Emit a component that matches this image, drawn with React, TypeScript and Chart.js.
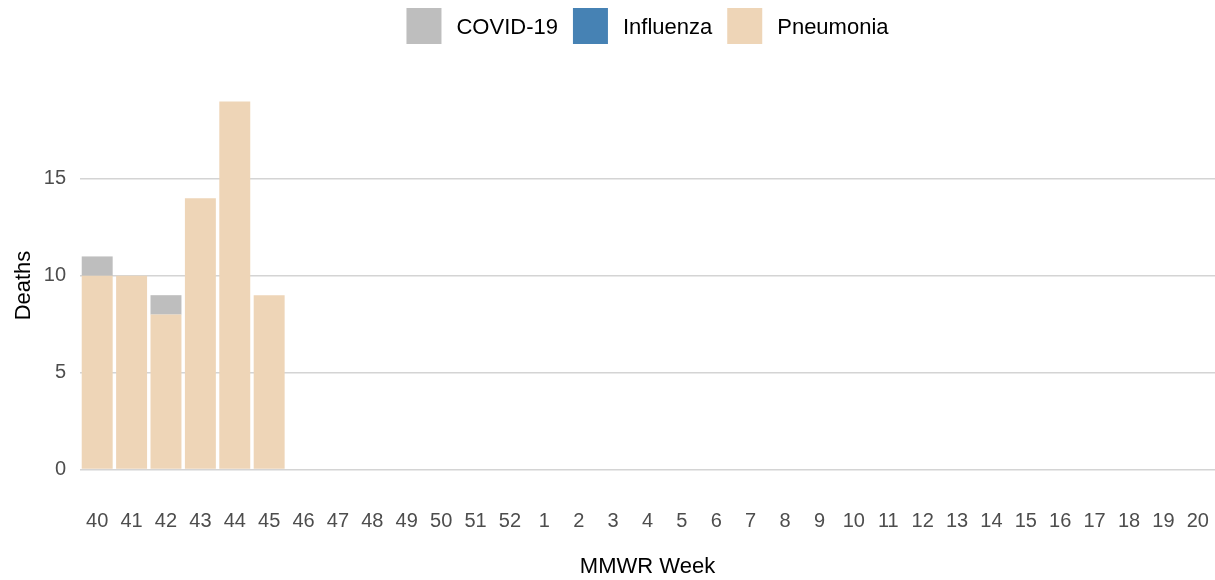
import React, { useEffect, useRef } from "react";
import { Chart, registerables } from "chart.js";

Chart.register(...registerables);

const weeks: string[] = [
  "40", "41", "42", "43", "44", "45", "46", "47", "48", "49", "50", "51", "52",
  "1", "2", "3", "4", "5", "6", "7", "8", "9", "10", "11", "12", "13", "14", "15", "16", "17", "18", "19", "20",
];
const pneumonia: (number | null)[] = [10, 10, 8, 14, 19, 9];
const influenza: (number | null)[] = [0, 0, 0, 0, 0, 0];
const covid: (number | null)[] = [1, 0, 1, 0, 0, 0];
const yTicks: number[] = [0, 5, 10, 15];

const COLORS = { covid: "#BEBEBE", flu: "#4682B4", pneu: "#EED5B7" };
const FONT = "'Liberation Sans', Arial, sans-serif";

const legendItems = [
  { label: "COVID-19", color: COLORS.covid },
  { label: "Influenza", color: COLORS.flu },
  { label: "Pneumonia", color: COLORS.pneu },
];

const customLegend = {
  id: "customLegend",
  afterDraw(chart: any) {
    const ctx = chart.ctx as CanvasRenderingContext2D;
    const { left, right } = chart.chartArea;
    ctx.save();
    ctx.font = `22px ${FONT}`;
    const box = 35;
    const boxH = 36;
    const gapText = 15;
    const gapItem = 15;
    const widths = legendItems.map((it) => box + gapText + ctx.measureText(it.label).width);
    const total = widths.reduce((a, b) => a + b, 0) + gapItem * (legendItems.length - 1);
    let x = (left + right) / 2 - total / 2;
    const top = 8;
    legendItems.forEach((it, i) => {
      ctx.fillStyle = it.color;
      ctx.fillRect(x, top, box, boxH);
      ctx.fillStyle = "#000";
      ctx.textBaseline = "middle";
      ctx.textAlign = "left";
      ctx.fillText(it.label, x + box + gapText, top + boxH / 2 + 2);
      x += widths[i] + gapItem;
    });
    ctx.restore();
  },
};

export default function App() {
  const ref = useRef<HTMLCanvasElement | null>(null);
  useEffect(() => {
    if (!ref.current) return;
    const chart = new Chart(ref.current, {
      type: "bar",
      data: {
        labels: weeks,
        datasets: [
          { label: "Pneumonia", data: pneumonia, backgroundColor: COLORS.pneu },
          { label: "Influenza", data: influenza, backgroundColor: COLORS.flu },
          { label: "COVID-19", data: covid, backgroundColor: COLORS.covid },
        ],
      },
      options: {
        responsive: false,
        animation: false,
        layout: { padding: { top: 83, left: 0, right: 0, bottom: 0 } },
        datasets: { bar: { categoryPercentage: 1, barPercentage: 0.9 } },
        plugins: { legend: { display: false }, tooltip: { enabled: false } },
        scales: {
          x: {
            stacked: true,
            offset: true,
            grid: { display: false, drawTicks: false },
            border: { display: false },
            ticks: { color: "#4D4D4D", font: { size: 20, family: FONT }, padding: 21, maxRotation: 0, autoSkip: false },
            title: { display: true, text: "MMWR Week", color: "#000", font: { size: 22, family: FONT }, padding: { top: 0, bottom: 0 } },
            afterFit: (axis: any) => { axis.height = 92; axis.paddingLeft = 0; axis.paddingRight = 0; },
          },
          y: {
            stacked: true,
            min: -0.95,
            max: 19.95,
            grid: { color: "#D4D4D4", lineWidth: 1.5, drawTicks: false },
            border: { display: false },
            afterBuildTicks: (axis: any) => { axis.ticks = yTicks.map((v) => ({ value: v })); },
            ticks: { color: "#4D4D4D", font: { size: 20, family: FONT }, padding: 14 },
            title: { display: true, text: "Deaths", color: "#000", font: { size: 22, family: FONT }, padding: { top: 11, bottom: 11 } },
            afterFit: (axis: any) => { axis.width = 80; axis.paddingTop = 0; axis.paddingBottom = 0; },
          },
        },
      },
      plugins: [customLegend],
    });
    return () => chart.destroy();
  }, []);
  return (
    <div style={{ position: "fixed", left: 0, top: 0, width: 1215, height: 580, background: "#fff" }}>
      <canvas ref={ref} width={1215} height={580} style={{ display: "block" }} />
    </div>
  );
}
